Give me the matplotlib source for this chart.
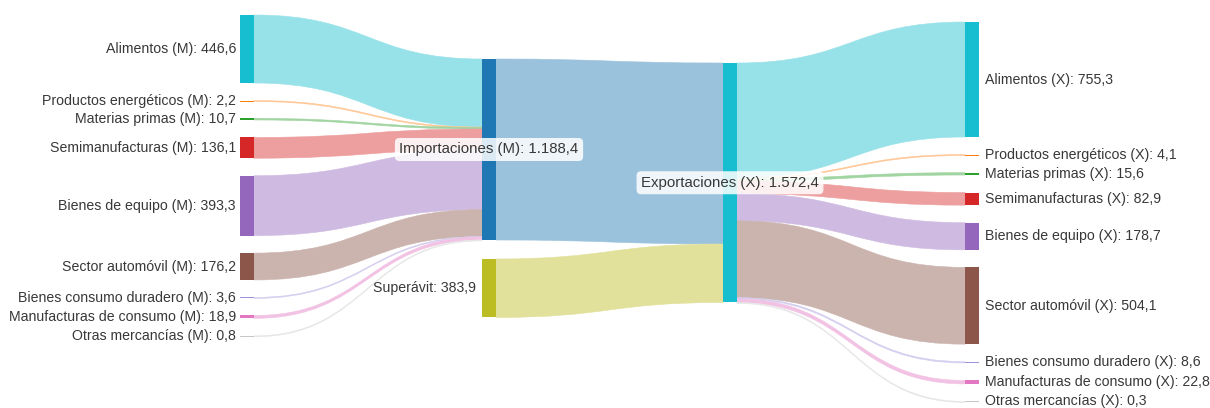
import numpy as np
import matplotlib
matplotlib.use("Agg")
import matplotlib.pyplot as plt
from matplotlib.path import Path
from matplotlib.patches import PathPatch, Rectangle
from matplotlib.colors import to_rgb

plt.rcParams['font.family'] = ['Liberation Sans', 'DejaVu Sans']

# categorias (mismo orden a ambos lados)
categorias = ["Alimentos", "Productos energéticos", "Materias primas", "Semimanufacturas",
              "Bienes de equipo", "Sector automóvil", "Bienes consumo duradero",
              "Manufacturas de consumo", "Otras mercancías"]
importaciones = [446.6, 2.2, 10.7, 136.1, 393.3, 176.2, 3.6, 18.9, 0.8]
exportaciones = [755.3, 4.1, 15.6, 82.9, 178.7, 504.1, 8.6, 22.8, 0.3]
superavit = 383.9
colores = ["#17becf", "#ff7f0e", "#2ca02c", "#d62728", "#9467bd", "#8c564b",
           "#a08fdc", "#e377c2", "#c7c7c7"]
col_imp = "#1f77b4"
col_sup = "#bcbd22"
col_exp = "#17becf"


def fmt(v):
    s = f"{v:,.1f}"
    return s.replace(",", "X").replace(".", ",").replace("X", ".")


def claro(c, a=0.45):
    r = np.array(to_rgb(c))
    return tuple(1 - a * (1 - r))


# layout (pixeles)
W, H = 1210, 408
escala = 0.1523
pad = 17.5
nw = 14
x_izq, x_imp, x_exp, x_der = 240, 482, 723, 965

fig = plt.figure(figsize=(W / 100, H / 100), dpi=100)
ax = fig.add_axes([0, 0, 1, 1])
ax.set_xlim(0, W)
ax.set_ylim(H, 0)
ax.axis("off")


def apilar(vals, top):
    pos = []
    y = top
    for v in vals:
        h = v * escala
        pos.append((y, y + h))
        y += h + pad
    return pos


izq = apilar(importaciones, 15)
der = apilar(exportaciones, 22)
imp_top = 59
imp_h = sum(importaciones) * escala
sup_top = imp_top + imp_h + 19
sup_h = superavit * escala
exp_top = 63
exp_h = sum(exportaciones) * escala


def enlace(xs, ys0, ys1, xt, yt0, yt1, color):
    xm = (xs + xt) / 2
    if ys1 - ys0 < 1:
        ys1 = ys0 + 1
        yt1 = yt0 + 1
    verts = [(xs, ys0), (xm, ys0), (xm, yt0), (xt, yt0),
             (xt, yt1), (xm, yt1), (xm, ys1), (xs, ys1), (xs, ys0)]
    codes = [Path.MOVETO, Path.CURVE4, Path.CURVE4, Path.CURVE4,
             Path.LINETO, Path.CURVE4, Path.CURVE4, Path.CURVE4, Path.CLOSEPOLY]
    ax.add_patch(PathPatch(Path(verts, codes), facecolor=claro(color),
                           edgecolor=claro(color), lw=0.4, zorder=1))


def nodo(x, y0, y1, color):
    h = max(y1 - y0, 1)
    ax.add_patch(Rectangle((x, y0), nw, h, facecolor=color, edgecolor="none", zorder=2))


# enlaces izquierda -> importaciones
y = imp_top
for (a, b), v, c in zip(izq, importaciones, colores):
    h = v * escala
    enlace(x_izq + nw, a, b, x_imp, y, y + h, c)
    y += h

# importaciones/superavit -> exportaciones
enlace(x_imp + nw, imp_top, imp_top + imp_h, x_exp, exp_top, exp_top + imp_h, col_imp)
enlace(x_imp + nw, sup_top, sup_top + sup_h, x_exp, exp_top + imp_h,
       exp_top + imp_h + sup_h, col_sup)

# exportaciones -> derecha
y = exp_top
for (a, b), v, c in zip(der, exportaciones, colores):
    h = v * escala
    enlace(x_exp + nw, y, y + h, x_der, a, b, c)
    y += h

# nodos y etiquetas
txt = dict(fontsize=10.2, color="#383838", zorder=4)
for (a, b), v, c, n in zip(izq, importaciones, colores, categorias):
    nodo(x_izq, a, b, c)
    ax.text(x_izq - 4, (a + b) / 2, f"{n} (M): {fmt(v)}", ha="right", va="center", **txt)
for (a, b), v, c, n in zip(der, exportaciones, colores, categorias):
    nodo(x_der, a, b, c)
    ax.text(x_der + nw + 6, (a + b) / 2, f"{n} (X): {fmt(v)}", ha="left", va="center", **txt)

nodo(x_imp, imp_top, imp_top + imp_h, col_imp)
nodo(x_imp, sup_top, sup_top + sup_h, col_sup)
nodo(x_exp, exp_top, exp_top + exp_h, col_exp)

caja = dict(boxstyle="round,pad=0.3,rounding_size=0.3", facecolor="white",
            edgecolor="none", alpha=0.85)
txt_m = dict(txt, fontsize=10.8)
ax.text(x_imp + nw / 2, imp_top + imp_h / 2, f"Importaciones (M): {fmt(sum(importaciones))}",
        ha="center", va="center", bbox=caja, **txt_m)
ax.text(x_exp + nw / 2, exp_top + exp_h / 2, f"Exportaciones (X): {fmt(sum(exportaciones))}",
        ha="center", va="center", bbox=caja, **txt_m)
ax.text(x_imp - 6, sup_top + sup_h / 2, f"Superávit: {fmt(superavit)}",
        ha="right", va="center", **txt)

fig.savefig("out.png", dpi=100)
